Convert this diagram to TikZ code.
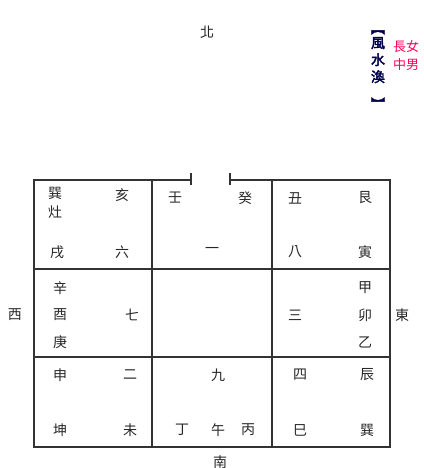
\documentclass[tikz,border=0pt]{standalone}
\usepackage{fontspec}
\setmainfont{Noto Sans CJK TC}
\newfontfamily\hexfont[FakeBold=2.5]{Noto Sans CJK TC}
\usetikzlibrary{calc}

\begin{document}
\begin{tikzpicture}[x=1pt,y=-1pt,
  every node/.style={font=\fontsize{14}{14}\selectfont, text=black!85, inner sep=0pt},
  wall/.style={draw=black!80, line width=1.1pt},
  handnote/.style={text=red!65!magenta, font=\fontsize{13}{13}\selectfont}]

\useasboundingbox (0,0) rectangle (423,468);

\coordinate (nw) at (34,180);
\coordinate (ne) at (390,180);
\coordinate (sw) at (34,447);
\coordinate (se) at (390,447);
\coordinate (c1n) at (152,180);
\coordinate (c1s) at (152,447);
\coordinate (c2n) at (272,180);
\coordinate (c2s) at (272,447);
\coordinate (r1w) at (34,269);
\coordinate (r1e) at (390,269);
\coordinate (r2w) at (34,357);
\coordinate (r2e) at (390,357);
\coordinate (dl) at (191,180);
\coordinate (dr) at (230,180);
\coordinate (dlt) at (191,173);
\coordinate (dlb) at (191,185);
\coordinate (drt) at (230,173);
\coordinate (drb) at (230,185);

\draw[wall] (dl) -- (nw) -- (sw) -- (se) -- (ne) -- (dr);
\draw[wall] (c1n) -- (c1s);
\draw[wall] (c2n) -- (c2s);
\draw[wall] (r1w) -- (r1e);
\draw[wall] (r2w) -- (r2e);
\draw[wall] (dlt) -- (dlb);
\draw[wall] (drt) -- (drb);

% directions
\node (north) at (207,32) {北};
\node (south) at (220,462) {南};
\node (west) at (15,315) {西};
\node (east) at (402,315) {東};

% top row
\node (xun2) at (55,193) {巽};
\node (zao) at (55,212) {灶};
\node (hai) at (122,195) {亥};
\node (xu) at (57,252) {戌};
\node (six) at (122,252) {六};
\node (ren) at (175,198) {壬};
\node (gui) at (245,198) {癸};
\node (one) at (212,250) {一};
\node (chou) at (295,198) {丑};
\node (gen) at (365,198) {艮};
\node (eight) at (295,252) {八};
\node (yin) at (365,252) {寅};

% middle row
\node (xin) at (60,288) {辛};
\node (you) at (60,315) {酉};
\node (geng) at (60,342) {庚};
\node (seven) at (132,315) {七};
\node (three) at (295,315) {三};
\node (jia) at (365,288) {甲};
\node (mao) at (365,315) {卯};
\node (yi) at (365,342) {乙};

% bottom row
\node (shen) at (60,375) {申};
\node (two) at (130,375) {二};
\node (kun) at (60,430) {坤};
\node (wei) at (130,430) {未};
\node (nine) at (218,375) {九};
\node (ding) at (182,430) {丁};
\node (wu) at (218,430) {午};
\node (bing) at (248,430) {丙};
\node (four) at (300,375) {四};
\node (chen) at (367,375) {辰};
\node (si) at (300,430) {巳};
\node (xun) at (367,430) {巽};

% hexagram title
\node[font=\hexfont\fontsize{14}{14}\selectfont, text=black!70!blue, align=center] (hex) at (378,66)
  {\rotatebox{-90}{【}\\[1pt]風\\[3pt]水\\[3pt]渙\\[1pt]\rotatebox{-90}{】}};
\node[handnote] (girl) at (406,47) {長女};
\node[handnote] (boy) at (406,65) {中男};

\end{tikzpicture}
\end{document}
